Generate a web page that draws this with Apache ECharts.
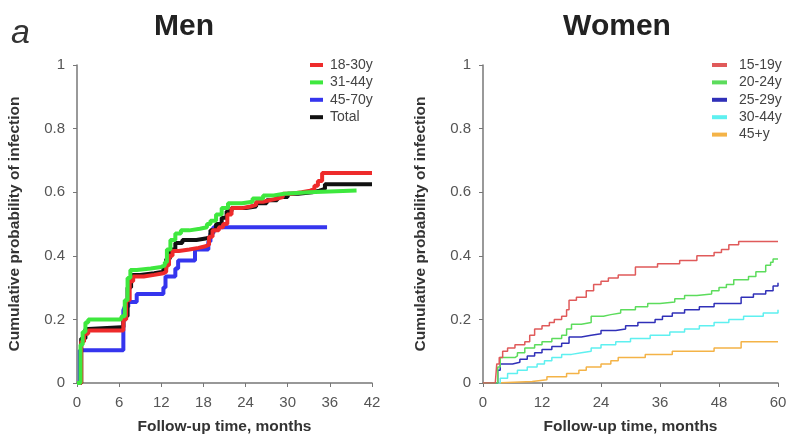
<!DOCTYPE html>
<html>
<head>
<meta charset="utf-8">
<script src="https://cdn.jsdelivr.net/npm/echarts@6/dist/echarts.min.js"></script>
<style>
  html, body { margin: 0; padding: 0; background: #fff; }
  #chart { width: 788px; height: 434px; }
</style>
</head>
<body>
<div id="chart"></div>
<script>
// tick values
var menTicks = [0, 6, 12, 18, 24, 30, 36, 42]
var womenTicks = [0, 12, 24, 36, 48, 60]

// Men: time (months) / cumulative probability, step after each time
var menNames = ['18-30y', '31-44y', '45-70y', 'Total']

var men1830T = [0, 0.6, 1.0, 1.6, 6.3, 6.6, 7.0, 7.5, 8.0, 9.5, 11, 12.3, 12.7, 13.1, 13.6, 14.5, 16, 17.3, 18.3, 18.8, 19.3, 20.2, 20.8, 21.4, 22, 23.5, 24.7, 25.5, 26.5, 27.5, 28.5, 29.3, 30.5, 32, 33.2, 33.8, 34.3, 34.9, 42]
var men1830V = [0, 0.13, 0.155, 0.165, 0.165, 0.2, 0.26, 0.32, 0.335, 0.34, 0.345, 0.35, 0.37, 0.4, 0.415, 0.42, 0.425, 0.43, 0.435, 0.46, 0.48, 0.49, 0.5, 0.53, 0.55, 0.555, 0.56, 0.57, 0.575, 0.58, 0.585, 0.595, 0.6, 0.605, 0.61, 0.62, 0.635, 0.66, 0.66]

var men3144T = [0, 0.5, 0.8, 1.2, 1.6, 6.2, 6.4, 6.8, 7.2, 7.6, 8.5, 10.5, 12, 12.5, 12.8, 13.3, 14, 14.8, 16, 17.5, 18.5, 19, 19.8, 20.6, 21.5, 23.5, 25, 26.5, 28, 29.5, 33, 39.8]
var men3144V = [0, 0.12, 0.16, 0.19, 0.2, 0.2, 0.21, 0.26, 0.33, 0.355, 0.36, 0.365, 0.37, 0.38, 0.42, 0.45, 0.47, 0.48, 0.485, 0.49, 0.5, 0.51, 0.53, 0.55, 0.565, 0.57, 0.58, 0.59, 0.595, 0.6, 0.605, 0.605]

var men4570T = [0, 0.4, 6.6, 6.8, 7.3, 8.5, 12.3, 12.6, 14, 14.4, 16.8, 18.7, 19, 19.4, 35.6]
var men4570V = [0, 0.103, 0.229, 0.24, 0.255, 0.28, 0.3, 0.335, 0.36, 0.385, 0.42, 0.445, 0.47, 0.49, 0.49]

var menTotalT = [0, 0.6, 1.2, 1.6, 6.3, 6.6, 7.2, 7.7, 9, 11, 12.3, 12.7, 13.2, 14, 15, 17, 18.5, 19, 19.8, 20.6, 21.3, 22, 24, 25.5, 27, 28.5, 30, 31.5, 33.5, 34.5, 35.3, 42]
var menTotalV = [0, 0.14, 0.17, 0.175, 0.175, 0.21, 0.3, 0.34, 0.345, 0.35, 0.36, 0.39, 0.42, 0.44, 0.45, 0.455, 0.46, 0.48, 0.5, 0.52, 0.54, 0.55, 0.555, 0.565, 0.575, 0.585, 0.595, 0.6, 0.605, 0.61, 0.625, 0.625]

// Women
var womenNames = ['15-19y', '20-24y', '25-29y', '30-44y', '45+y']

var w1519T = [0, 2.5, 2.8, 3.3, 4, 5, 6.5, 8.5, 9.5, 10.5, 12, 13.5, 14.5, 16, 17, 17.5, 19, 21, 22.5, 24, 25.5, 27.5, 31, 35.5, 40, 43.5, 47, 48.5, 50, 52, 60]
var w1519V = [0, 0, 0.06, 0.08, 0.1, 0.11, 0.12, 0.13, 0.15, 0.17, 0.18, 0.19, 0.2, 0.21, 0.23, 0.26, 0.27, 0.29, 0.31, 0.32, 0.33, 0.34, 0.365, 0.375, 0.385, 0.4, 0.41, 0.42, 0.435, 0.445, 0.445]

var w2024T = [0, 2.5, 3, 3.5, 6.5, 7, 8.5, 10.5, 12, 14, 16, 17, 18, 20, 22, 24.5, 26, 28, 31, 33.5, 36, 39, 41, 43.5, 46.5, 48, 49.5, 51, 54, 55.5, 57.5, 58.5, 59, 60]
var w2024V = [0, 0, 0.05, 0.08, 0.085, 0.095, 0.11, 0.12, 0.13, 0.14, 0.15, 0.17, 0.185, 0.19, 0.21, 0.215, 0.22, 0.23, 0.24, 0.25, 0.255, 0.265, 0.275, 0.28, 0.29, 0.3, 0.31, 0.325, 0.335, 0.35, 0.37, 0.38, 0.39, 0.39]

var w2529T = [0, 2.5, 3, 3.5, 6, 7.5, 9, 10.5, 12, 14, 16, 17.5, 20, 22, 24, 27, 29, 31.5, 35, 36.5, 38.5, 41, 44, 47, 52.5, 55, 57.5, 59, 60]
var w2529V = [0, 0, 0.04, 0.06, 0.065, 0.075, 0.085, 0.095, 0.105, 0.115, 0.125, 0.145, 0.15, 0.155, 0.165, 0.17, 0.18, 0.19, 0.2, 0.21, 0.22, 0.23, 0.24, 0.25, 0.27, 0.28, 0.29, 0.305, 0.315]

var w3044T = [0, 3, 3.5, 5, 7, 9, 11, 12.5, 14, 16, 18, 20, 22, 24, 27, 30, 34, 38, 41, 44, 47, 50, 53, 57, 60]
var w3044V = [0, 0, 0.015, 0.03, 0.04, 0.05, 0.06, 0.07, 0.08, 0.09, 0.095, 0.1, 0.11, 0.12, 0.13, 0.14, 0.15, 0.16, 0.17, 0.18, 0.19, 0.2, 0.21, 0.22, 0.23]

var w45T = [0, 2.5, 10, 13, 17, 19.5, 21, 24, 26, 27.5, 33, 38.5, 47, 52.5, 60]
var w45V = [0, 0.005, 0.01, 0.02, 0.03, 0.04, 0.05, 0.06, 0.07, 0.08, 0.09, 0.1, 0.11, 0.13, 0.13]

function pairs (t, v) {
  return t.map(function (x, i) { return [x, v[i]] })
}

var font = 'Liberation Sans, Arial, sans-serif'

function xAxis (idx, max, interval) {
  return {
    type: 'value', gridIndex: idx, min: 0, max: max, interval: interval,
    name: 'Follow-up time, months', nameLocation: 'middle', nameGap: 36,
    nameTextStyle: { fontFamily: font, fontSize: 15.5, fontWeight: 'bold', color: '#333' },
    axisLine: { lineStyle: { color: '#777', width: 1.5 } },
    axisTick: { show: true, length: 4, lineStyle: { color: '#777' } },
    axisLabel: { fontFamily: font, fontSize: 15, color: '#555', margin: 12 },
    splitLine: { show: false }
  }
}

function yAxis (idx) {
  return {
    type: 'value', gridIndex: idx, min: 0, max: 1, interval: 0.2,
    name: 'Cumulative probability of infection', nameLocation: 'middle', nameGap: 54,
    nameTextStyle: { fontFamily: font, fontSize: 15.5, fontWeight: 'bold', color: '#333' },
    axisLine: { show: true, lineStyle: { color: '#777', width: 1.5 } },
    axisTick: { show: true, length: 4, lineStyle: { color: '#777' } },
    axisLabel: { fontFamily: font, fontSize: 15, color: '#555', margin: 12 },
    splitLine: { show: false }
  }
}

function stepLine (name, t, v, color, width, xi) {
  return {
    name: name, type: 'line', step: 'end', xAxisIndex: xi, yAxisIndex: xi,
    data: pairs(t, v), showSymbol: false, symbol: 'none',
    lineStyle: { color: color, width: width }, itemStyle: { color: color },
    emphasis: { disabled: true }, animation: false
  }
}

var chart = echarts.init(document.getElementById('chart'))

chart.setOption({
  backgroundColor: '#fff',
  animation: false,
  grid: [
    { left: 77, top: 65, width: 295, height: 318, outerBoundsMode: 'none', containLabel: false },
    { left: 483, top: 65, width: 295, height: 318, outerBoundsMode: 'none', containLabel: false }
  ],
  xAxis: [xAxis(0, 42, 6), xAxis(1, 60, 12)],
  yAxis: [yAxis(0), yAxis(1)],
  legend: [
    {
      data: menNames, orient: 'vertical', left: 310, top: 58, padding: 0,
      icon: 'rect', itemWidth: 13, itemHeight: 4, itemGap: 3.4,
      textStyle: { fontFamily: font, fontSize: 14, color: '#444', lineHeight: 14, padding: [0, 0, 0, 2] }
    },
    {
      data: womenNames, orient: 'vertical', left: 712, top: 58, padding: 0,
      icon: 'rect', itemWidth: 15, itemHeight: 4, itemGap: 3.4,
      textStyle: { fontFamily: font, fontSize: 14, color: '#444', lineHeight: 14, padding: [0, 0, 0, 7] }
    }
  ],
  graphic: [
    { type: 'text', left: 11, top: 17, style: { text: 'a', font: 'italic 34px ' + font, fill: '#333' } },
    { type: 'text', x: 184, y: 27, style: { text: 'Men', font: 'bold 30px ' + font, fill: '#222', textAlign: 'center', textVerticalAlign: 'middle' } },
    { type: 'text', x: 617, y: 27, style: { text: 'Women', font: 'bold 30px ' + font, fill: '#222', textAlign: 'center', textVerticalAlign: 'middle' } }
  ],
  series: [
    stepLine('45-70y', men4570T, men4570V, '#3535ee', 4, 0),
    stepLine('Total', menTotalT, menTotalV, '#111111', 4, 0),
    stepLine('18-30y', men1830T, men1830V, '#ee2b2b', 4, 0),
    stepLine('31-44y', men3144T, men3144V, '#3ee83e', 4, 0),
    stepLine('45+y', w45T, w45V, '#f4b347', 1.5, 1),
    stepLine('30-44y', w3044T, w3044V, '#5ef0f0', 1.5, 1),
    stepLine('25-29y', w2529T, w2529V, '#3030b8', 1.5, 1),
    stepLine('20-24y', w2024T, w2024V, '#5cdc5c', 1.5, 1),
    stepLine('15-19y', w1519T, w1519V, '#e05a5a', 1.5, 1)
  ]
})
</script>
</body>
</html>
